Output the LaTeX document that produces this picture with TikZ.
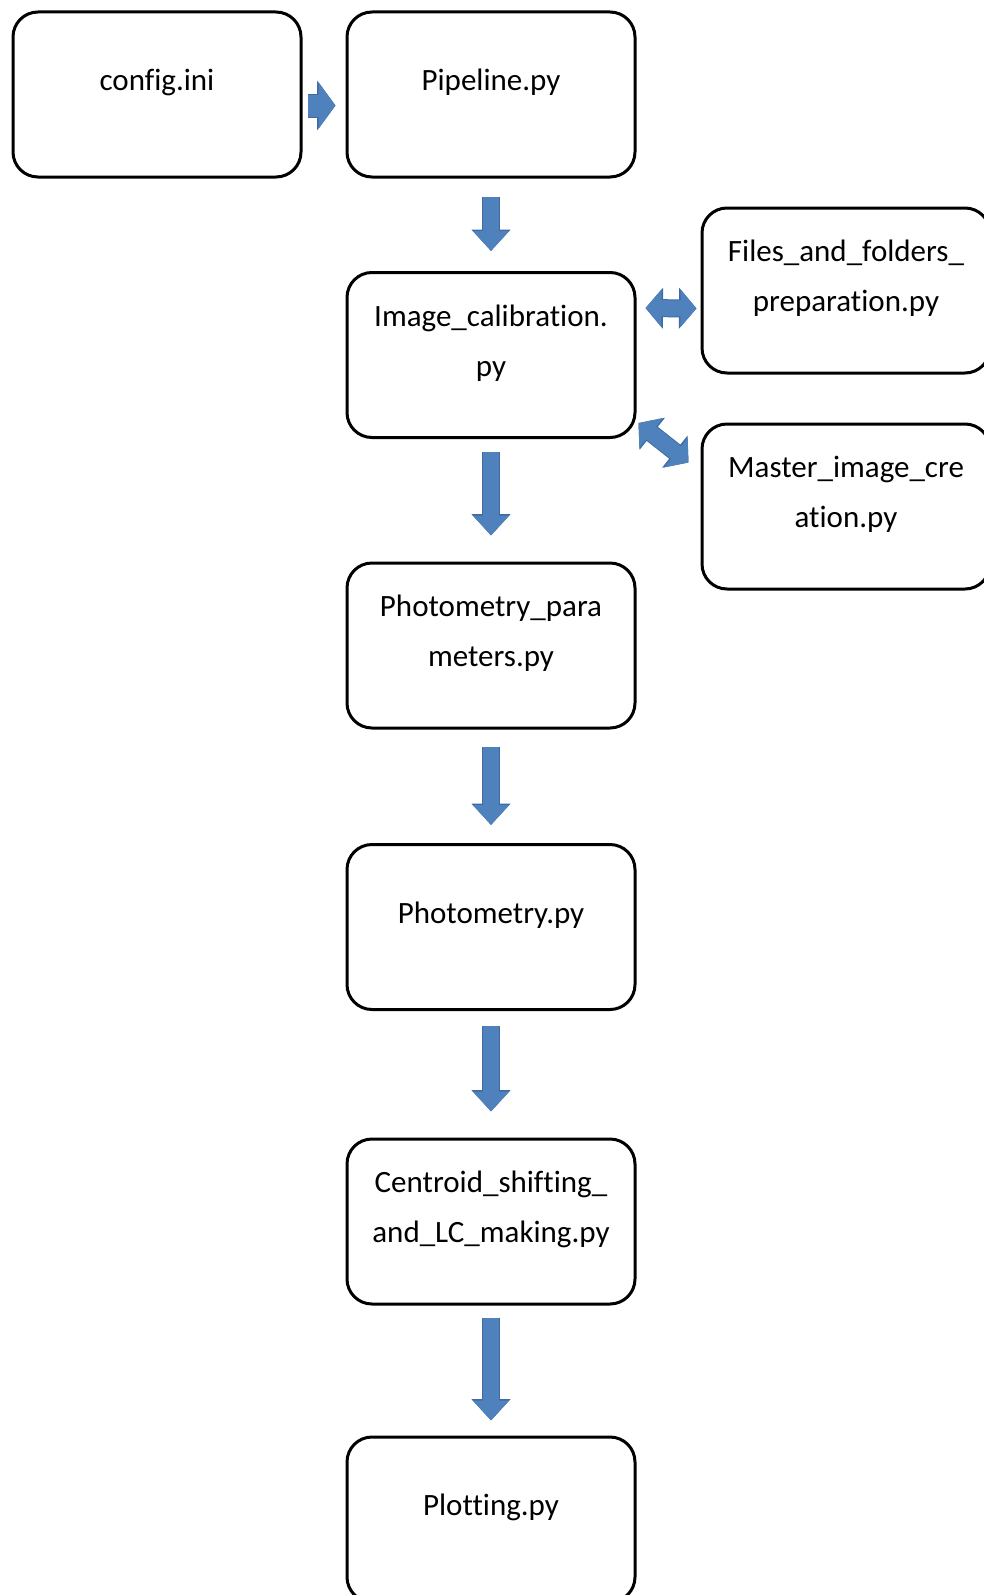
\documentclass[tikz,border=0pt]{standalone}
\usepackage{fontspec}
\setmainfont{Carlito}[Ligatures=NoCommon]
\usetikzlibrary{arrows.meta}
\definecolor{arrowblue}{HTML}{4F81BD}
\definecolor{arrowedge}{HTML}{3F6B9F}
\tikzset{
  box/.style={draw, line width=3pt, rounded corners=25pt, minimum width=288pt, minimum height=165pt},
  boxtext/.style={align=center, font=\fontsize{31}{50}\selectfont, yshift=12pt},
  blockarrow/.style={draw=arrowblue, line width=16pt, -{Triangle[width=35pt,length=20pt]},
    preaction={draw=arrowedge, line width=18pt, -{Triangle[width=38pt,length=21.5pt]}}},
  bigarrow/.style={draw=arrowblue, line width=22pt, -{Triangle[width=46pt,length=17pt]},
    preaction={draw=arrowedge, line width=24pt, -{Triangle[width=49pt,length=18.5pt]}}},
  twoway/.style={draw=arrowblue, line width=16pt, {Triangle[width=37pt,length=16pt]}-{Triangle[width=37pt,length=16pt]},
    preaction={draw=arrowedge, line width=18pt, {Triangle[width=40pt,length=17.5pt]}-{Triangle[width=40pt,length=17.5pt]}}}
}
\begin{document}
\begin{tikzpicture}[x=1pt,y=-1pt]

      \useasboundingbox (0,0) rectangle (984,1595);

      \node[box, label={[boxtext]center:config.ini}] (config) at (157,94.5) {};
      \node[box, label={[boxtext]center:Pipeline.py}] (pipe) at (491,94.5) {};
      \node[box, label={[boxtext]center:{Image\_calibration.\\py}}] (calib) at (491,355) {};
      \node[box, label={[boxtext]center:{Files\_and\_folders\_\\preparation.py}}] (files) at (846,290.5) {};
      \node[box, label={[boxtext]center:{Master\_image\_cre\\ation.py}}] (master) at (846,506.5) {};
      \node[box, label={[boxtext]center:{Photometry\_para\\meters.py}}] (params) at (491,645.5) {};
      \node[box, label={[boxtext]center:Photometry.py}] (phot) at (491,927) {};
      \node[box, label={[boxtext]center:{Centroid\_shifting\_\\and\_LC\_making.py}}] (centroid) at (491,1221.5) {};
      \node[box, label={[boxtext]center:Plotting.py}] (plot) at (491,1519.5) {};

      \draw[bigarrow, shorten <=5pt, shorten >=10pt] ([yshift=-11pt]config.east) -- ([yshift=-11pt]pipe.west);
      \draw[blockarrow, shorten <=18pt, shorten >=20pt] (pipe) -- (calib);
      \draw[blockarrow, shorten <=13pt, shorten >=26pt] (calib) -- (params);
      \draw[blockarrow, shorten <=17pt, shorten >=18pt] (params) -- (phot);
      \draw[blockarrow, shorten <=15pt, shorten >=26pt] (phot) -- (centroid);
      \draw[blockarrow, shorten <=12pt, shorten >=15pt] (centroid) -- (plot);
      \draw[twoway, shorten <=9pt, shorten >=4pt] ([yshift=47pt]calib.east) -- ([yshift=-18pt]files.west);
      \draw[twoway] ([xshift=2pt,yshift=16pt]calib.south east) -- ([xshift=-12pt,yshift=-40pt]master.north west);

    \end{tikzpicture}
\end{document}
